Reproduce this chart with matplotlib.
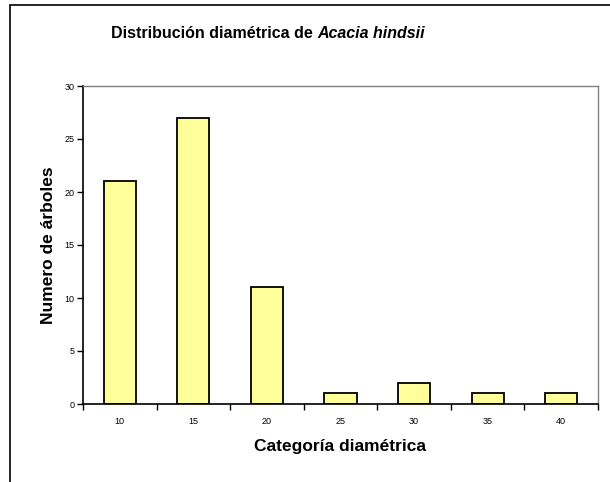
import matplotlib
matplotlib.use("Agg")
import matplotlib.pyplot as plt
from matplotlib.patches import Rectangle
from matplotlib.offsetbox import TextArea, HPacker, AnchoredOffsetbox
import numpy as np

plt.rcParams['font.family'] = ['Liberation Sans', 'DejaVu Sans']

categorias = ["10", "15", "20", "25", "30", "35", "40"]
arboles = [21, 27, 11, 1, 2, 1, 1]
y_ticks = [0, 5, 10, 15, 20, 25, 30]

W, H = 610, 482
fig = plt.figure(figsize=(W / 100, H / 100), dpi=100)

# outer chart frame (cut off on right and bottom like the original)
fig.patches.append(Rectangle((10 / W, -0.1), 1.2, 1 - 5 / H + 0.1, transform=fig.transFigure,
                             fill=False, edgecolor="black", linewidth=1.2, clip_on=False))

ax = fig.add_axes([83 / W, 1 - 404 / H, (598 - 83) / W, (404 - 86) / H])

x = np.arange(len(categorias))
ax.bar(x, arboles, width=0.435, color="#FFFF99", edgecolor="black", linewidth=1.3)

ax.set_xlim(-0.5, len(categorias) - 0.5)
ax.set_ylim(0, 30)
ax.set_yticks(y_ticks)
ax.tick_params(axis="y", direction="out", length=4, width=1, labelsize=6.5, pad=2)

# category labels centered, tick marks between categories
ax.set_xticks(np.arange(len(categorias) + 1) - 0.5)
ax.set_xticklabels([])
ax.set_xticks(x, minor=True)
ax.set_xticklabels(categorias, minor=True)
ax.tick_params(axis="x", which="major", direction="out", length=4, width=1)
ax.tick_params(axis="x", which="minor", length=0, labelsize=6.5, pad=9)

for s in ["top", "right"]:
    ax.spines[s].set_color("#808080")
    ax.spines[s].set_linewidth(1)
for s in ["left", "bottom"]:
    ax.spines[s].set_color("black")
    ax.spines[s].set_linewidth(1.2)

ax.set_xlabel("Categoría diamétrica", fontsize=12.5, fontweight="bold", labelpad=10)
ax.set_ylabel("Numero de árboles", fontsize=12.5, fontweight="bold", labelpad=6)

# title: normal bold part + bold italic species name
t1 = TextArea("Distribución diamétrica de ", textprops=dict(fontsize=11.5, fontweight="bold"))
t2 = TextArea("Acacia hindsii", textprops=dict(fontsize=11.5, fontweight="bold", style="italic"))
box = HPacker(children=[t1, t2], align="baseline", pad=0, sep=0)
title = AnchoredOffsetbox(loc="center", child=box, frameon=False, pad=0,
                          bbox_to_anchor=(268 / W, 1 - 34 / H), bbox_transform=fig.transFigure)
fig.add_artist(title)

fig.savefig("out.png", dpi=100)
